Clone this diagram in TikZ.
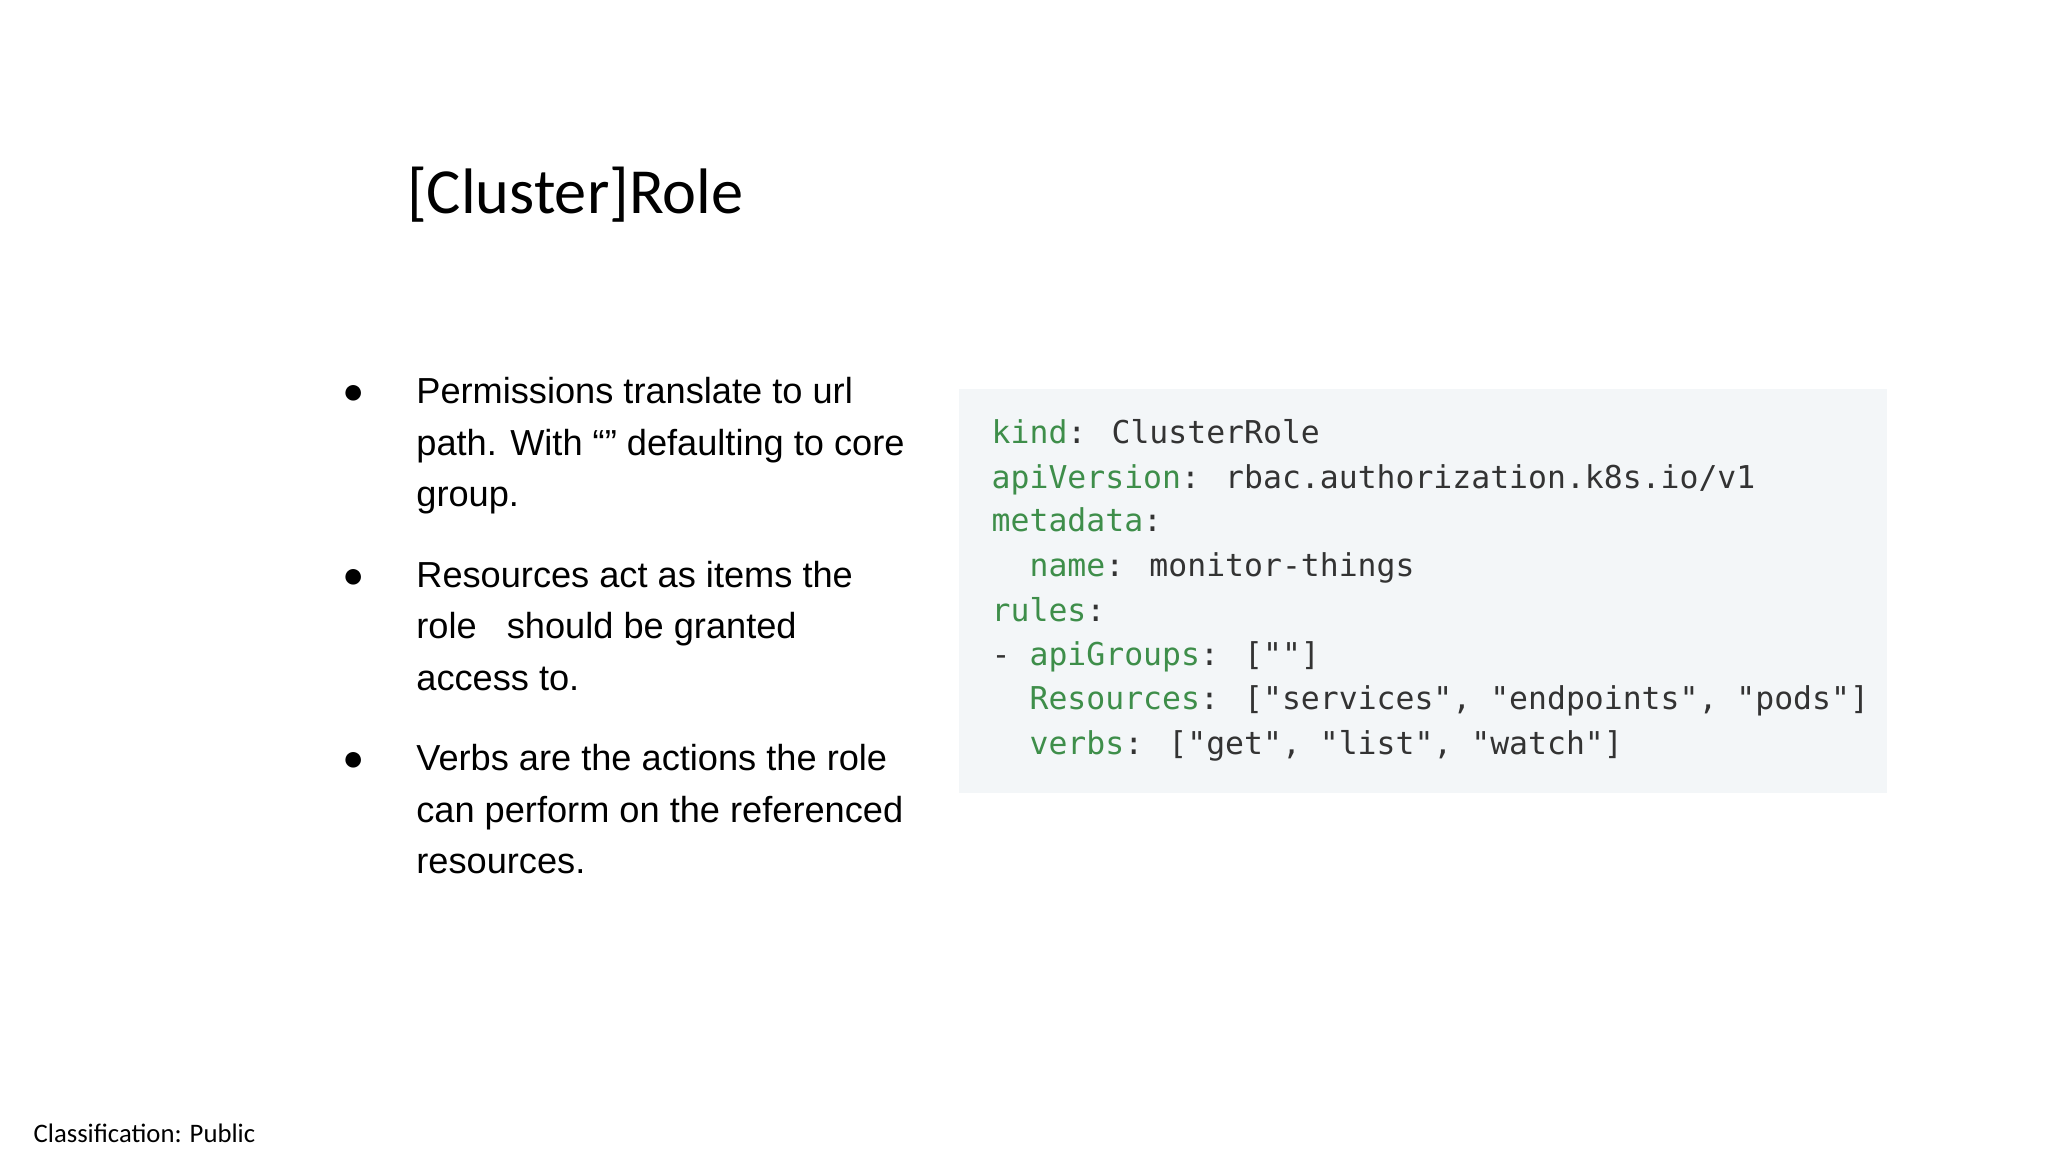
\documentclass[tikz,border=0pt]{standalone}
\usepackage{fontspec}
\setmainfont{Liberation Sans}
\newfontfamily\titlefont{Carlito}
\newfontfamily\codefont{DejaVu Sans Mono}
\definecolor{keyc}{HTML}{3E8E4A}
\definecolor{valc}{HTML}{333333}
\definecolor{codebg}{HTML}{F3F6F8}
\tikzset{
  bl/.style={anchor=base west,inner sep=0pt,font=\fontsize{10.3}{12}\selectfont,text=black},
  cl/.style={anchor=base west,inner sep=0pt,font=\codefont\fontsize{8.95}{11}\selectfont,text=valc},
}
\newcommand{\kk}[1]{\textcolor{keyc}{#1}}
\begin{document}
\begin{tikzpicture}[x=0.013196cm,y=-0.013196cm]
\useasboundingbox (0,0) rectangle (1552,873);
\node[anchor=base west,inner sep=0pt,font=\titlefont\fontsize{18.3}{20}\selectfont] (title) at (308,162) {[Cluster]Role};
% bullets
\foreach \y/\n in {306/b1,445/b2,584/b3}{\node[bl] (\n) at (259,\y) {●};}
\node[bl] (l1) at (315,306) {Permissions translate to url};
\node[bl] (l2) at (315,345) {path. With “” defaulting to core};
\node[bl] (l3) at (315,384) {group.};
\node[bl] (l4) at (315,445) {Resources act as items the};
\node[bl] (l5) at (315,484) {role \ \ should be granted};
\node[bl] (l6) at (315,523) {access to.};
\node[bl] (l7) at (315,584) {Verbs are the actions the role};
\node[bl] (l8) at (315,623) {can perform on the referenced};
\node[bl] (l9) at (315,662) {resources.};
% code
\fill[codebg] (727,295) rectangle (1430,601);
\node[cl] (c1) at (751,336) {\kk{kind}: ClusterRole};
\node[cl] (c2) at (751,370) {\kk{apiVersion}: rbac.authorization.k8s.io/v1};
\node[cl] (c3) at (751,403) {\kk{metadata}:};
\node[cl] (c4) at (751,437) {\ \ \kk{name}: monitor-things};
\node[cl] (c5) at (751,471) {\kk{rules}:};
\node[cl] (c6) at (751,504) {- \kk{apiGroups}: [""]};
\node[cl] (c7) at (751,538) {\ \ \kk{Resources}: ["services", "endpoints", "pods"]};
\node[cl] (c8) at (751,572) {\ \ \kk{verbs}: ["get", "list", "watch"]};
\node[anchor=base west,inner sep=0pt,font=\titlefont\fontsize{7.6}{9}\selectfont] (cls) at (25,866) {Classification: Public};
\end{tikzpicture}
\end{document}
